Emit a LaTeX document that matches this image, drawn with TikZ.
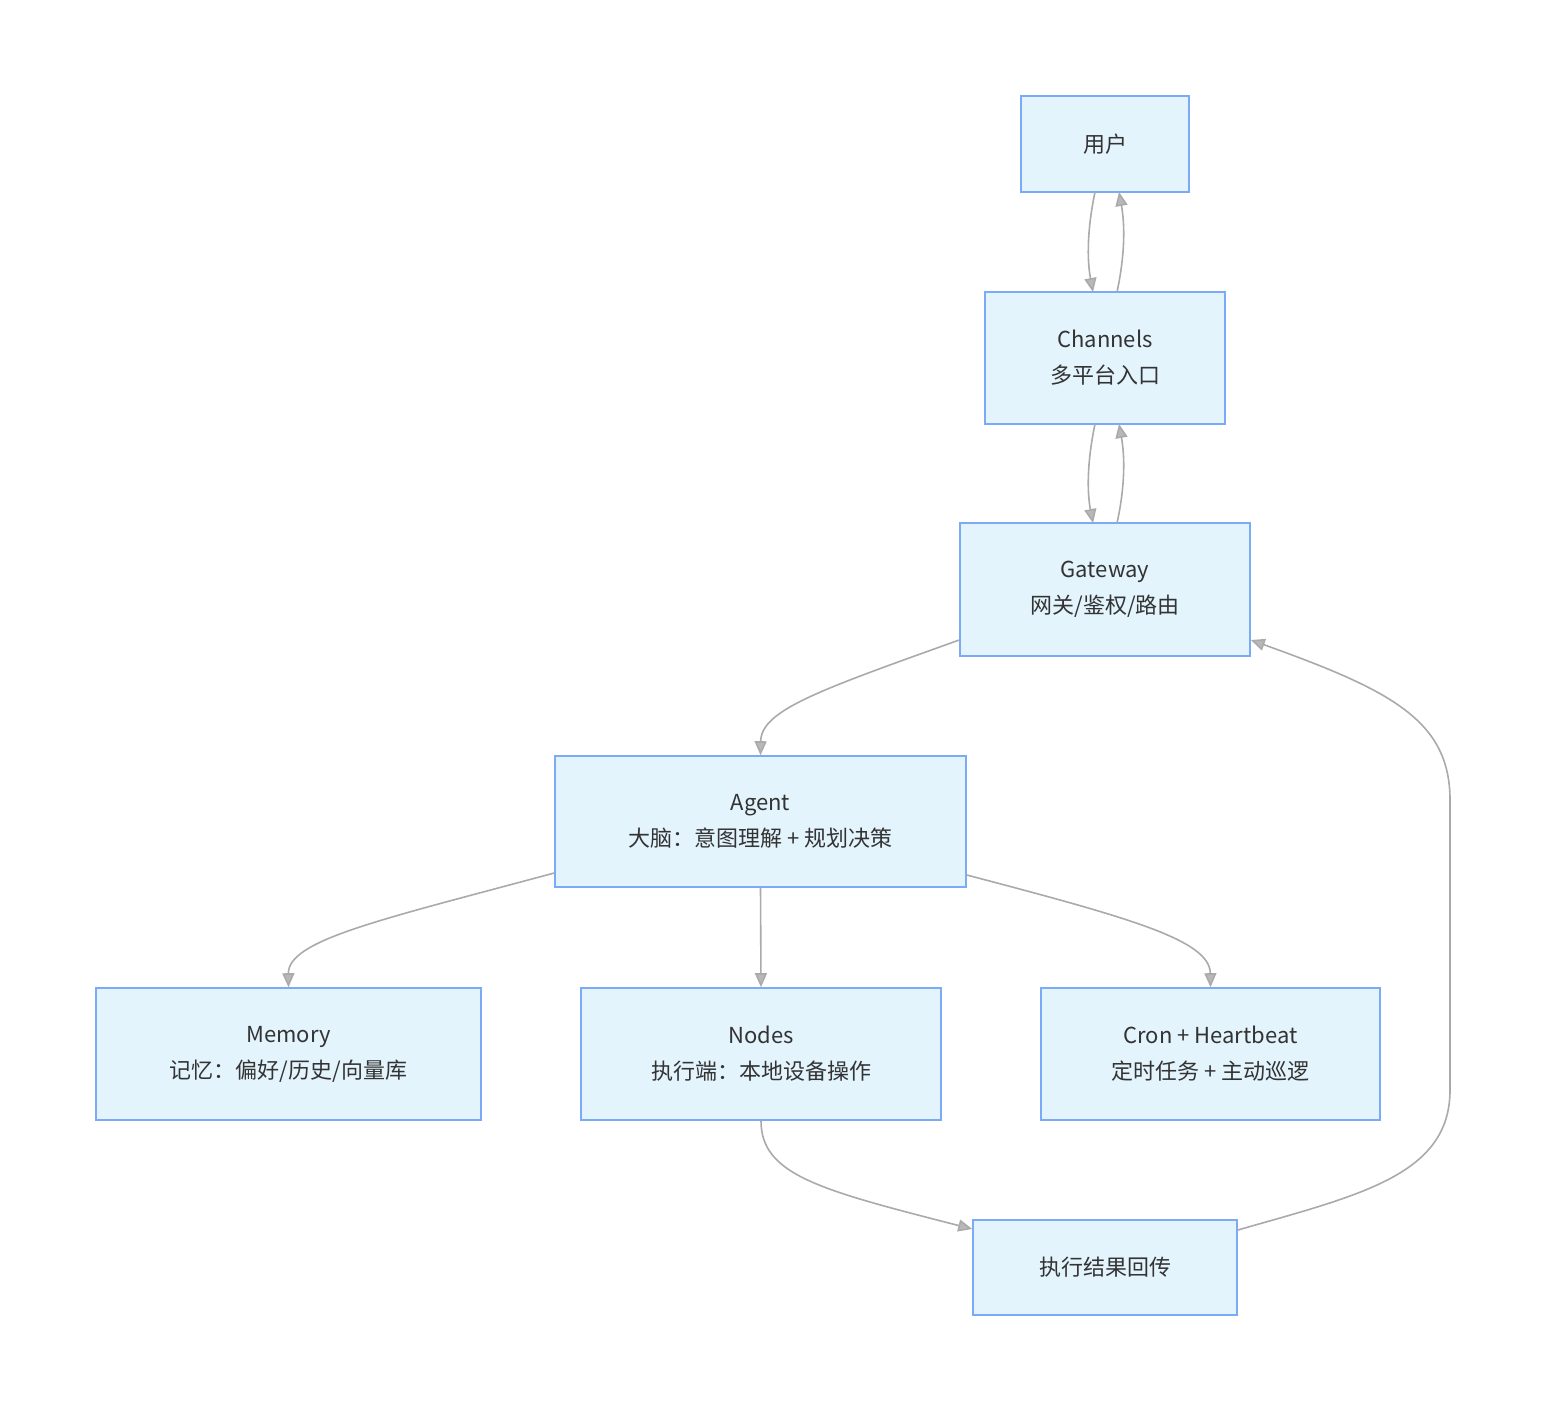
\documentclass[tikz,border=0pt]{standalone}
\usepackage{fontspec}
\setmainfont{Noto Sans CJK SC}
\usetikzlibrary{arrows.meta}
\definecolor{bfill}{HTML}{E3F4FD}
\definecolor{bdraw}{HTML}{7BAAF7}
\definecolor{edge}{HTML}{AAAAAA}
\definecolor{txt}{HTML}{333333}
\begin{document}
\begin{tikzpicture}[x=0.5pt,y=-0.5pt,
 box/.style={draw=bdraw,fill=bfill,line width=0.8pt,align=center,text=txt,font=\fontsize{11}{18}\selectfont,inner sep=0pt},
 arr/.style={draw=edge,line width=0.8pt,-{Triangle[length=7pt,width=6pt,fill=edge!80!black!60]}}]
\useasboundingbox (0,0) rectangle (1546,1412);
\node[box,minimum width=84pt,minimum height=48pt] (u) at (1105,144) {用户};
\node[box,minimum width=120pt,minimum height=66pt] (c) at (1105,358) {Channels\\多平台入口};
\node[box,minimum width=145pt,minimum height=66.5pt] (g) at (1105,589.5) {Gateway\\网关/鉴权/路由};
\node[box,minimum width=205.5pt,minimum height=65.5pt] (a) at (760.5,821.5) {Agent\\大脑：意图理解 + 规划决策};
\node[box,minimum width=192.5pt,minimum height=66pt] (m) at (288.5,1054) {Memory\\记忆：偏好/历史/向量库};
\node[box,minimum width=180pt,minimum height=66pt] (n) at (761,1054) {Nodes\\执行端：本地设备操作};
\node[box,minimum width=169.5pt,minimum height=66pt] (cr) at (1210.5,1054) {Cron + Heartbeat\\定时任务 + 主动巡逻};
\node[box,minimum width=132pt,minimum height=47.5pt] (r) at (1105,1267.5) {执行结果回传};
\coordinate (u1) at (1095,192); \coordinate (c1) at (1093,292);
\coordinate (c2) at (1117,292); \coordinate (u2) at (1119,192);
\draw[arr] (u1) .. controls (1087,230) and (1087,260) .. (c1);
\draw[arr] (c2) .. controls (1125,255) and (1125,225) .. (u2);
\coordinate (c3) at (1095,424); \coordinate (g1) at (1093,523);
\coordinate (g2) at (1117,523); \coordinate (c4) at (1119,424);
\draw[arr] (c3) .. controls (1087,462) and (1087,492) .. (g1);
\draw[arr] (g2) .. controls (1125,487) and (1125,457) .. (c4);
\draw[arr] (g.west|-0,640) .. controls (820,690) and (761,710) .. (a.north);
\draw[arr] (a.west|-0,873) .. controls (380,920) and (288,940) .. (m.north);
\draw[arr] (a.south) -- (n.north);
\draw[arr] (a.east|-0,875) .. controls (1130,918) and (1210,940) .. (cr.north);
\draw[arr] (n.south) .. controls (761,1175) and (820,1190) .. (r.west|-0,1229);
\draw[arr] (r.east|-0,1230) .. controls (1360,1195) and (1450,1175) .. (1450,1090)
 -- (1450,800) .. controls (1450,720) and (1390,690) .. (g.east|-0,640);
\end{tikzpicture}
\end{document}
